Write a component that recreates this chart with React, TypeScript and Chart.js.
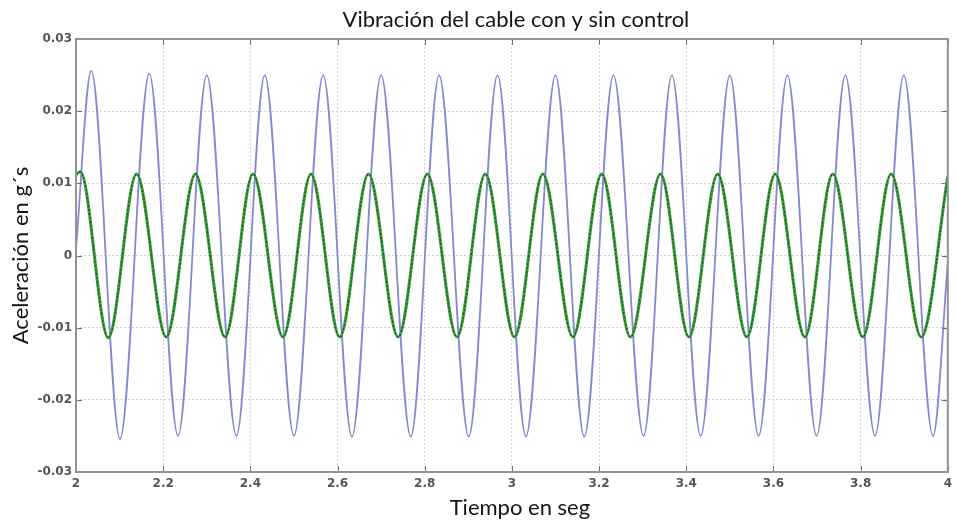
import React, { useEffect, useRef } from "react";
import { Chart, registerables } from "chart.js";

Chart.register(...registerables);

// Cable acceleration, sampled at the turning points of each oscillation (time in s, acceleration in g).
const sinControlTimes = [
  2.0, 2.035, 2.101, 2.168, 2.234, 2.3, 2.368, 2.433, 2.5, 2.567, 2.633, 2.7, 2.768, 2.833, 2.901, 2.967,
  3.032, 3.1, 3.166, 3.233, 3.302, 3.367, 3.433, 3.5, 3.566, 3.632, 3.699, 3.765, 3.833, 3.899, 3.966, 4.0,
];
const sinControlValues = [
  0.001, 0.0256, -0.0254, 0.0252, -0.025, 0.025, -0.025, 0.025, -0.025, 0.025, -0.0251, 0.025, -0.0251, 0.025,
  -0.0251, 0.025, -0.0251, 0.025, -0.0251, 0.025, -0.025, 0.025, -0.025, 0.025, -0.025, 0.025, -0.025, 0.025,
  -0.025, 0.025, -0.025, -0.001,
];

const conControlTimes = [
  2.0, 2.01, 2.074, 2.139, 2.207, 2.274, 2.342, 2.406, 2.475, 2.539, 2.605, 2.671, 2.739, 2.806, 2.874, 2.939,
  3.006, 3.071, 3.14, 3.206, 3.272, 3.341, 3.406, 3.472, 3.539, 3.604, 3.672, 3.736, 3.805, 3.87, 3.939, 4.0,
];
const conControlValues = [
  0.0112, 0.0116, -0.0114, 0.0113, -0.0113, 0.0113, -0.0113, 0.0113, -0.0113, 0.0113, -0.0113, 0.0113, -0.0113,
  0.0113, -0.0113, 0.0113, -0.0113, 0.0113, -0.0113, 0.0113, -0.0113, 0.0113, -0.0113, 0.0113, -0.0113, 0.0113,
  -0.0113, 0.0113, -0.0113, 0.0113, -0.0113, 0.011,
];

const xTickLabels = ["2", "2.2", "2.4", "2.6", "2.8", "3", "3.2", "3.4", "3.6", "3.8", "4"];
const yTickLabels = ["-0.03", "-0.02", "-0.01", "0", "0.01", "0.02", "0.03"];

const titleText = "Vibración del cable con y sin control";
const xLabelText = "Tiempo en seg";
const yLabelText = "Aceleración en g´s";

const TEXT_FONT = "Lato, 'Open Sans', sans-serif";
const TICK_FONT = "'DejaVu Sans', sans-serif";

const toPoints = (ts: number[], vs: number[]) => ts.map((t, i) => ({ x: t, y: vs[i] }));

// Boxed axes with inward tick marks and the titles around the plot.
const framePlugin = {
  id: "frameAndLabels",
  afterDraw(chart: any) {
    const { ctx, chartArea } = chart;
    const { left, right, top, bottom } = chartArea;
    const xs = chart.scales.x;
    const ys = chart.scales.y;
    ctx.save();
    // ticks
    ctx.strokeStyle = "#707070";
    ctx.lineWidth = 1;
    const tl = 6;
    ctx.beginPath();
    xTickLabels.forEach((l) => {
      const px = Math.round(xs.getPixelForValue(parseFloat(l))) + 0.5;
      ctx.moveTo(px, bottom);
      ctx.lineTo(px, bottom - tl);
      ctx.moveTo(px, top);
      ctx.lineTo(px, top + tl);
    });
    yTickLabels.forEach((l) => {
      const py = Math.round(ys.getPixelForValue(parseFloat(l))) + 0.5;
      ctx.moveTo(left, py);
      ctx.lineTo(left + tl, py);
      ctx.moveTo(right, py);
      ctx.lineTo(right - tl, py);
    });
    ctx.stroke();
    // box
    ctx.strokeStyle = "#939393";
    ctx.lineWidth = 2;
    ctx.strokeRect(left, top, right - left, bottom - top);

    // titles
    const cx = (left + right) / 2;
    ctx.fillStyle = "#151515";
    ctx.textAlign = "center";
    ctx.textBaseline = "alphabetic";
    ctx.font = `22px ${TEXT_FONT}`;
    ctx.fillText(titleText, cx + 4, top - 12);
    ctx.font = `22px ${TEXT_FONT}`;
    ctx.fillText(xLabelText, cx + 8, bottom + 43);
    ctx.save();
    ctx.translate(left - 48, (top + bottom) / 2);
    ctx.rotate(-Math.PI / 2);
    ctx.fillText(yLabelText, 0, 0);
    ctx.restore();
    ctx.restore();
  },
};

export default function App() {
  const canvasRef = useRef<HTMLCanvasElement | null>(null);

  useEffect(() => {
    document.body.style.margin = "0";
    const canvas = canvasRef.current;
    if (!canvas) return;
    const chart = new Chart(canvas, {
      type: "line",
      data: {
        datasets: [
          {
            label: "con control (núcleo)",
            data: toPoints(conControlTimes, conControlValues),
            borderColor: "#1d531d",
            borderWidth: 1.2,
            borderDash: [2, 2],
            pointRadius: 0,
            cubicInterpolationMode: "monotone",
          },
          {
            label: "con control",
            data: toPoints(conControlTimes, conControlValues),
            borderColor: "#3a9f3a",
            borderWidth: 3,
            pointRadius: 0,
            cubicInterpolationMode: "monotone",
          },
          {
            label: "sin control",
            data: toPoints(sinControlTimes, sinControlValues),
            borderColor: "#8389d0",
            borderWidth: 1.8,
            pointRadius: 0,
            cubicInterpolationMode: "monotone",
          },
        ],
      },
      options: {
        responsive: false,
        animation: false,
        parsing: false as any,
        layout: { padding: { top: 39, right: 2, left: 0, bottom: 0 } },
        plugins: {
          legend: { display: false },
          title: { display: false },
          tooltip: { enabled: false },
        },
        scales: {
          x: {
            type: "linear",
            min: 2,
            max: 4,
            afterBuildTicks: (s: any) => {
              s.ticks = xTickLabels.map((l) => ({ value: parseFloat(l) }));
            },
            afterFit: (s: any) => {
              s.height = 50;
            },
            ticks: {
              autoSkip: false,
              maxRotation: 0,
              padding: 5,
              color: "#555555",
              font: { family: TICK_FONT, size: 12, weight: "bold" },
              callback: (v: any) => xTickLabels.find((l) => Math.abs(parseFloat(l) - v) < 1e-9) ?? "",
            },
            grid: { color: "#d2d2d2", lineWidth: 1, drawTicks: false },
            border: { display: false, dash: [2, 2] },
          },
          y: {
            type: "linear",
            min: -0.03,
            max: 0.03,
            afterBuildTicks: (s: any) => {
              s.ticks = yTickLabels.map((l) => ({ value: parseFloat(l) }));
            },
            afterFit: (s: any) => {
              s.width = 76;
            },
            ticks: {
              autoSkip: false,
              padding: 4,
              color: "#555555",
              font: { family: TICK_FONT, size: 12, weight: "bold" },
              callback: (v: any) => yTickLabels.find((l) => Math.abs(parseFloat(l) - v) < 1e-9) ?? "",
            },
            grid: { color: "#d2d2d2", lineWidth: 1, drawTicks: false },
            border: { display: false, dash: [2, 2] },
          },
        },
      },
      plugins: [framePlugin],
    });
    return () => chart.destroy();
  }, []);

  return (
    <div style={{ width: 957, height: 522, background: "#fff" }}>
      <canvas ref={canvasRef} width={957} height={522} style={{ display: "block" }} />
    </div>
  );
}
